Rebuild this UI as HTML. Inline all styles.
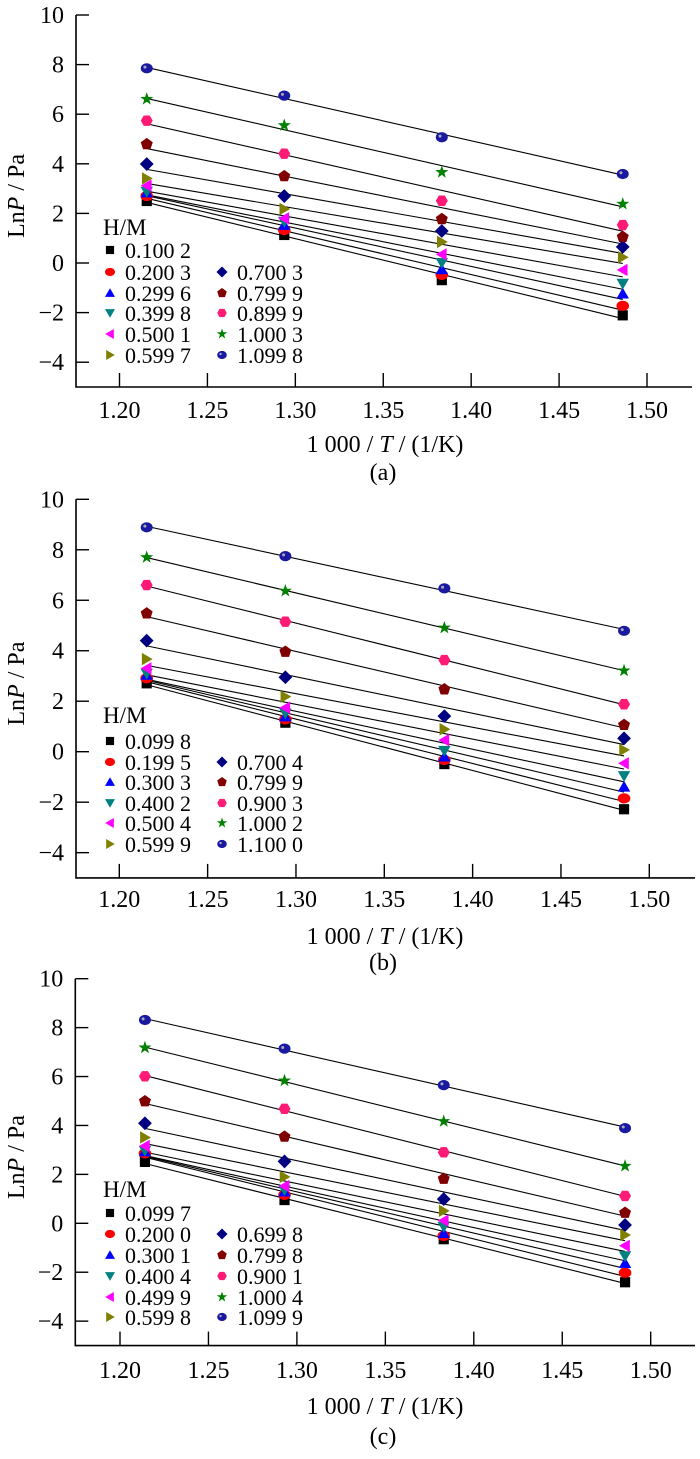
<!DOCTYPE html>
<html><head><meta charset="utf-8">
<style>
html,body{margin:0;padding:0;background:#fff;}
svg, svg text{font-family:"Liberation Serif","Times New Roman",serif;}
</style></head>
<body>
<svg id="fig" width="700" height="1454" viewBox="0 0 700 1454" xmlns="http://www.w3.org/2000/svg" font-family="Liberation Serif, serif"></svg>
<script>
// ---- data ----
const xTicks = [1.20,1.25,1.30,1.35,1.40,1.45,1.50];
const xTickLabels = ["1.20","1.25","1.30","1.35","1.40","1.45","1.50"];
const yTicks = [-4,-2,0,2,4,6,8,10];
const yTickLabels = ["\u22124","\u22122","0","2","4","6","8","10"];
const xA = [1.2155,1.2937,1.3833,1.4862];
const xB = [1.2155,1.2940,1.3840,1.4857];
const xC = [1.2141,1.2930,1.3830,1.4855];
const labelsA = ["0.100 2","0.200 3","0.299 6","0.399 8","0.500 1","0.599 7","0.700 3","0.799 9","0.899 9","1.000 3","1.099 8"];
const labelsB = ["0.099 8","0.199 5","0.300 3","0.400 2","0.500 4","0.599 9","0.700 4","0.799 9","0.900 3","1.000 2","1.100 0"];
const labelsC = ["0.099 7","0.200 0","0.300 1","0.400 4","0.499 9","0.599 8","0.699 8","0.799 8","0.900 1","1.000 4","1.099 9"];
const valuesA = [
 [2.50,1.13,-0.69,-2.11],[2.70,1.33,-0.48,-1.73],[2.84,1.53,-0.26,-1.24],[2.88,1.67,0.01,-0.83],
 [3.12,1.80,0.35,-0.28],[3.41,2.18,0.85,0.23],[3.99,2.70,1.29,0.65],[4.79,3.50,1.77,1.05],
 [5.74,4.41,2.51,1.53],[6.61,5.55,3.66,2.38],[7.85,6.75,5.07,3.59]];
const valuesB = [
 [2.71,1.15,-0.49,-2.28],[2.91,1.28,-0.33,-1.85],[3.04,1.39,-0.20,-1.39],[3.10,1.52,0.04,-0.96],
 [3.30,1.74,0.46,-0.46],[3.67,2.18,0.89,0.07],[4.40,2.95,1.41,0.53],[5.48,3.96,2.47,1.06],
 [6.60,5.15,3.63,1.88],[7.70,6.37,4.91,3.21],[8.89,7.75,6.47,4.79]];
const valuesC = [
 [2.51,0.95,-0.65,-2.41],[2.86,1.16,-0.52,-2.02],[2.93,1.29,-0.41,-1.63],[2.97,1.36,-0.14,-1.34],
 [3.16,1.52,0.11,-0.92],[3.51,1.90,0.51,-0.48],[4.09,2.53,0.99,-0.07],[4.99,3.54,1.82,0.43],
 [6.01,4.68,2.90,1.12],[7.18,5.83,4.17,2.34],[8.31,7.14,5.65,3.89]];

const colors=["#000000","#ff0000","#0000ff","#008080","#ff00ff","#808000","#000080","#800000","#ff1a75","#008000","#1a1aa0"];
const shapes=["square","circle","up","down","left","right","diamond","pentagon","hexagon","star","ball"];

const panels=[
 {id:"a",x:xA,vals:valuesA,labels:labelsA,axX:76,y10:15,y0:263,x120:119.5,x150:647,right:692,
  legY:[250,272,293,313,334,355],hmY:227,tickLblY:418,titleY:452,capY:480},
 {id:"b",x:xB,vals:valuesB,labels:labelsB,axX:76,y10:499.3,y0:751.7,x120:119.3,x150:649.3,right:695,
  legY:[741,762,782,803,823,844],hmY:715,tickLblY:907,titleY:944,capY:970},
 {id:"c",x:xC,vals:valuesC,labels:labelsC,axX:75.3,y10:978.7,y0:1223.3,x120:120,x150:650.7,right:695,
  legY:[1213,1234,1255,1276,1297,1317],hmY:1189,tickLblY:1378,titleY:1414,capY:1444}
];

const FF="Liberation Serif, Times New Roman, serif";
const NS="http://www.w3.org/2000/svg";
const fig=document.getElementById('fig');
function mk(tag,attrs,parent){const e=document.createElementNS(NS,tag);for(const k in attrs)e.setAttribute(k,attrs[k]);if(tag==='text')e.setAttribute('font-family',FF);(parent||fig).appendChild(e);return e;}

function poly(n,r,cx,cy,rot){let p=[];for(let i=0;i<n;i++){const a=rot+i*2*Math.PI/n;p.push((cx+r*Math.cos(a)).toFixed(2)+","+(cy+r*Math.sin(a)).toFixed(2));}return p.join(" ");}
function marker(g,shape,color,cx,cy,s){
 let e;
 if(shape==="square")e=mk('rect',{x:cx-s*0.85,y:cy-s*0.85,width:s*1.7,height:s*1.7,fill:color},g);
 else if(shape==="circle")e=mk('ellipse',{cx:cx,cy:cy,rx:s*1.05,ry:s*0.85,fill:color},g);
 else if(shape==="ball"){e=mk('ellipse',{cx:cx,cy:cy,rx:s*1.0,ry:s*0.85,fill:color},g);mk('circle',{cx:cx-s*0.3,cy:cy-s*0.2,r:s*0.25,fill:"#aab"},g);}
 else if(shape==="up")e=mk('polygon',{points:poly(3,s*1.2,cx,cy+s*0.2,-Math.PI/2),fill:color},g);
 else if(shape==="down")e=mk('polygon',{points:poly(3,s*1.2,cx,cy-s*0.2,Math.PI/2),fill:color},g);
 else if(shape==="left")e=mk('polygon',{points:poly(3,s*1.2,cx+s*0.2,cy,Math.PI),fill:color},g);
 else if(shape==="right")e=mk('polygon',{points:poly(3,s*1.2,cx-s*0.2,cy,0),fill:color},g);
 else if(shape==="diamond")e=mk('polygon',{points:poly(4,s*1.15,cx,cy,0),fill:color},g);
 else if(shape==="pentagon")e=mk('polygon',{points:poly(5,s*1.05,cx,cy,-Math.PI/2),fill:color},g);
 else if(shape==="hexagon")e=mk('polygon',{points:poly(6,s*1.0,cx,cy,0),fill:color},g);
 else if(shape==="star"){let p=[];for(let i=0;i<10;i++){const r=i%2?s*0.45:s*1.15;const a=-Math.PI/2+i*Math.PI/5;p.push((cx+r*Math.cos(a)).toFixed(2)+","+(cy+r*Math.sin(a)).toFixed(2));}e=mk('polygon',{points:p.join(" "),fill:color},g);}
 return e;
}

panels.forEach(P=>{
 const ppu=(P.y0-P.y10)/10;
 const sy=v=>P.y0-v*ppu;
 const sx=v=>P.x120+(v-1.20)*(P.x150-P.x120)/0.30;
 const g=mk('g',{});
 
 
 const bottom=sy(-5), top=sy(10);
 const ax=mk('path',{d:`M${P.axX},${top} L${P.axX},${bottom} L${P.right},${bottom}`,fill:"none",stroke:"#000","stroke-width":1.6},g);
 
 
 yTicks.forEach((t,i)=>{
  const y=sy(t);
  const tk=mk('line',{x1:P.axX,y1:y,x2:P.axX+13,y2:y,stroke:"#000","stroke-width":1.4},g);
  
  
  const tl=mk('text',{x:P.axX-12,y:y+8,"font-size":24,"text-anchor":"end"},g);
  tl.textContent=yTickLabels[i];
  
  
 });
 xTicks.forEach((t,i)=>{
  const x=sx(t);
  const tk=mk('line',{x1:x,y1:bottom,x2:x,y2:bottom-14,stroke:"#000","stroke-width":1.4},g);
  
  
  const tl=mk('text',{x:x,y:P.tickLblY,"font-size":24,"text-anchor":"middle"},g);
  tl.textContent=xTickLabels[i];
  
  
 });
 const xt=mk('text',{x:385,y:P.titleY,"font-size":24,"text-anchor":"middle"},g);
 xt.innerHTML='1 000 / <tspan font-style="italic">T</tspan> / (1/K)';
 
 
 const cap=mk('text',{x:383,y:P.capY,"font-size":24,"text-anchor":"middle"},g);
 cap.textContent='('+P.id+')';
 
 
 const ycy=(top+bottom)/2-5;
 const yt=mk('text',{x:0,y:0,"font-size":24,"text-anchor":"middle",transform:`translate(24,${ycy}) rotate(-90)`},g);
 yt.innerHTML='Ln<tspan font-style="italic">P</tspan> / Pa';
 
 
 P.vals.forEach((vals,si)=>{
  const xs=P.x; const n=xs.length;
  let mx=0,my=0;for(let i=0;i<n;i++){mx+=xs[i];my+=vals[i];}mx/=n;my/=n;
  let sxy=0,sxx=0;for(let i=0;i<n;i++){sxy+=(xs[i]-mx)*(vals[i]-my);sxx+=(xs[i]-mx)**2;}
  const b=sxy/sxx,a=my-b*mx;
  const ln=mk('line',{x1:sx(xs[0]),y1:sy(a+b*xs[0]),x2:sx(xs[n-1]),y2:sy(a+b*xs[n-1]),stroke:"#000","stroke-width":1.1},g);
  
  
 });
 P.vals.forEach((vals,si)=>{
  const sg=mk('g',{},g);
  
  
  vals.forEach((v,i)=>{marker(sg,shapes[si],colors[si],sx(P.x[i]),sy(v),6);});
 });
 const lg=mk('g',{},g);
 
 
 const hm=mk('text',{x:103,y:P.hmY+8,"font-size":23},lg);
 hm.textContent='H/M';
 
 
 P.labels.forEach((lab,si)=>{
  let col,row;
  if(si===0){col=0;row=0;} else if(si<=5){col=0;row=si;} else {col=1;row=si-5;}
  const mxp=col?222:110, tx=col?237:125, y=P.legY[row];
  const eg=mk('g',{},lg);
  
  
  marker(eg,shapes[si],colors[si],mxp,y,4.8);
  const t=mk('text',{x:tx,y:y+8,"font-size":22},eg);
  t.textContent=lab;
 });
});
</script>
</body></html>
